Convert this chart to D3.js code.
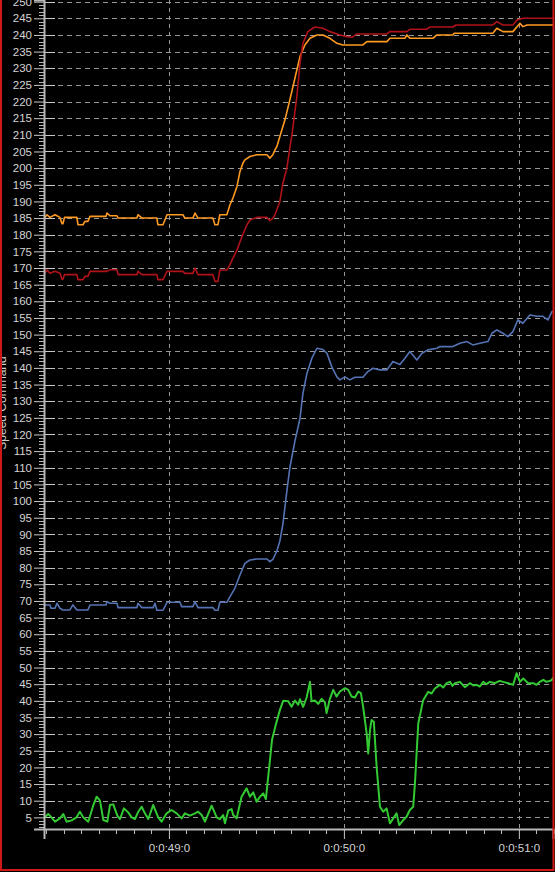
<!DOCTYPE html>
<html><head><meta charset="utf-8">
<script src="https://cdn.jsdelivr.net/npm/d3@7"></script>
<style>html,body{margin:0;padding:0;background:#000;}svg{display:block;}</style>
</head><body>
<script>
// ---- data: [seconds, value] ----
const orange = [[48.291,185.2],[48.303,186],[48.320,185.2],[48.349,186],[48.377,185.2],[48.389,183.3],[48.394,183.3],[48.403,185.2],[48.474,185.2],[48.480,183],[48.509,183],[48.520,184],[48.537,184],[48.549,185.5],[48.640,185.5],[48.646,186.5],[48.663,185.7],[48.703,185.7],[48.709,185],[48.817,185],[48.823,186],[48.846,185],[48.931,185],[48.937,183],[48.966,183],[48.989,186],[49.080,186],[49.091,185],[49.137,185],[49.149,186.5],[49.166,185],[49.251,185],[49.263,183],[49.280,183],[49.291,186],[49.331,186],[49.349,189],[49.366,191],[49.389,194.5],[49.406,199],[49.423,201.5],[49.434,202.5],[49.463,203.5],[49.503,204],[49.560,204],[49.577,203],[49.594,204],[49.606,205.5],[49.617,206.5],[49.634,209.5],[49.663,214.5],[49.691,220.5],[49.720,227],[49.749,233.5],[49.777,237],[49.806,239],[49.846,240],[49.880,240],[49.920,239],[49.960,237.5],[49.994,237],[50.109,237],[50.131,238],[50.246,238],[50.263,239],[50.349,239],[50.360,240],[50.377,239],[50.509,239],[50.531,240],[50.623,240],[50.630,240.5],[50.760,240.5],[50.851,240.5],[50.874,242],[50.909,241],[50.966,241],[51.006,243.5],[51.023,242.5],[51.046,243],[51.206,243]];
const red = [[48.291,168.4],[48.303,169.4],[48.320,168.4],[48.349,169],[48.377,168.4],[48.389,166.6],[48.394,166.6],[48.403,168],[48.474,168],[48.480,166.5],[48.509,166.5],[48.520,167.5],[48.537,167.5],[48.549,169],[48.646,169],[48.663,169.5],[48.703,169.5],[48.709,168],[48.817,168],[48.823,169],[48.846,168],[48.931,168],[48.937,166.5],[48.966,166.5],[48.989,169],[49.080,169],[49.091,168.4],[49.137,168.4],[49.149,170],[49.166,168],[49.251,168],[49.263,166],[49.280,166],[49.291,169.4],[49.331,169.4],[49.349,171],[49.366,173],[49.389,175.4],[49.417,179.4],[49.446,183],[49.463,184.4],[49.503,185.2],[49.560,185.2],[49.577,184.2],[49.594,185],[49.606,186],[49.634,190],[49.651,195.4],[49.674,200],[49.691,206],[49.703,210],[49.731,221.5],[49.749,231.5],[49.766,237.5],[49.794,241],[49.834,242.4],[49.880,242],[49.920,241],[49.977,240],[50.017,239.5],[50.046,239.3],[50.074,240.3],[50.246,240.3],[50.263,241],[50.360,241],[50.377,241.7],[50.474,241.7],[50.491,242.4],[50.623,242.4],[50.640,243],[50.851,243],[50.874,244],[50.909,243],[50.966,243],[50.989,244.5],[51.023,245],[51.206,245]];
const blue = [[48.291,68.8],[48.320,68.8],[48.326,67.8],[48.349,67.8],[48.360,69.3],[48.377,67.8],[48.394,67.3],[48.434,67.3],[48.451,68.8],[48.474,67.3],[48.537,67.3],[48.549,68.8],[48.640,68.8],[48.646,69.8],[48.663,69.3],[48.703,69.3],[48.709,68],[48.817,68],[48.823,69.3],[48.846,68],[48.910,68],[48.920,69.3],[48.931,67.2],[48.966,67.2],[48.989,69.6],[49.063,69.6],[49.073,68.3],[49.137,68.3],[49.149,69.8],[49.166,68],[49.251,68],[49.263,67.2],[49.280,67.2],[49.291,69.6],[49.331,69.6],[49.349,71.3],[49.377,73.8],[49.406,77.8],[49.434,81.3],[49.463,82.3],[49.503,82.6],[49.560,82.6],[49.577,81.8],[49.594,82.5],[49.617,85],[49.634,88],[49.651,93],[49.674,103],[49.691,110],[49.720,118],[49.749,124.8],[49.766,132.4],[49.789,138.4],[49.817,142.9],[49.846,145.9],[49.880,145.5],[49.903,144.4],[49.931,140.3],[49.960,137.3],[49.977,136.4],[50.006,137.3],[50.034,136.4],[50.063,137.2],[50.109,137.2],[50.137,138.9],[50.166,139.9],[50.206,139.4],[50.246,139.4],[50.280,141.9],[50.320,141],[50.349,142.9],[50.377,144.9],[50.417,142.4],[50.446,144.4],[50.480,145.4],[50.531,145.9],[50.549,146.4],[50.623,146.4],[50.663,147.4],[50.703,147.9],[50.737,146.9],[50.777,147.4],[50.823,147.9],[50.846,150.4],[50.874,151.4],[50.909,150.4],[50.937,149.4],[50.966,150.9],[50.994,154.4],[51.023,153.4],[51.063,155.9],[51.103,155.5],[51.137,155.5],[51.166,154.4],[51.189,156.9],[51.206,157]];
const green = [[48.291,5],[48.310,6],[48.329,5],[48.349,3.7],[48.377,4.7],[48.396,6],[48.415,3.7],[48.444,4.1],[48.472,5],[48.491,6.7],[48.510,5],[48.539,3.7],[48.567,8.5],[48.587,11.2],[48.606,10],[48.625,4.2],[48.648,3.7],[48.663,8.7],[48.682,8.9],[48.705,5.5],[48.720,4.5],[48.743,7.7],[48.767,6.5],[48.787,5],[48.806,4.5],[48.825,6.7],[48.844,8.2],[48.863,6.2],[48.882,4.5],[48.910,8.7],[48.939,5],[48.958,3.7],[48.987,6.2],[49.015,7.2],[49.044,6.2],[49.073,4.7],[49.091,6.2],[49.120,5.5],[49.149,6.2],[49.167,6.7],[49.187,5.7],[49.206,3.7],[49.244,8.5],[49.273,5],[49.291,4.5],[49.310,5.7],[49.320,3.2],[49.339,7],[49.358,7.5],[49.367,5.7],[49.387,4.7],[49.415,11.2],[49.444,13.7],[49.463,11.2],[49.482,12.5],[49.501,9.7],[49.520,11.2],[49.539,12.2],[49.554,10.5],[49.565,16],[49.577,22],[49.589,28.2],[49.610,32.7],[49.634,37.2],[49.653,40],[49.682,39.9],[49.701,38.2],[49.720,40.1],[49.739,38.8],[49.749,40.5],[49.767,38.2],[49.787,41],[49.806,45.7],[49.815,39.9],[49.834,40.1],[49.853,39.1],[49.873,40.6],[49.891,39.6],[49.901,36.3],[49.920,40.6],[49.939,43.3],[49.958,41.3],[49.977,42.8],[50.006,43.8],[50.025,43.3],[50.044,41.3],[50.063,41],[50.082,42.8],[50.097,42.3],[50.110,38.2],[50.130,30.2],[50.139,24.2],[50.149,31.2],[50.158,34.2],[50.171,33.7],[50.187,20.2],[50.206,8.2],[50.225,6.7],[50.244,7.7],[50.263,3.2],[50.282,4.7],[50.301,6.2],[50.316,2.7],[50.339,4.2],[50.358,5.2],[50.377,7.2],[50.396,8.2],[50.406,15.2],[50.425,33.2],[50.453,40.2],[50.482,42.7],[50.501,42.2],[50.520,43.7],[50.549,44.8],[50.567,44],[50.587,45.3],[50.606,45.7],[50.620,44.5],[50.634,45.3],[50.663,45.7],[50.691,44.1],[50.720,45.3],[50.740,44.6],[50.758,44.8],[50.777,44.3],[50.796,45.7],[50.815,45],[50.834,45.7],[50.863,45.3],[50.890,46],[50.910,45.7],[50.939,45.3],[50.967,44.8],[50.987,48.3],[51.006,45.7],[51.025,46.7],[51.053,45.3],[51.082,45.3],[51.101,44.8],[51.120,45.7],[51.140,46.3],[51.158,45.7],[51.187,46.2],[51.196,47]];

const xTickLabels = ["0:0:49:0","0:0:50:0","0:0:51:0"];
const xMajor = [49, 50, 51];
const yTitle = "Speed Command";

const seriesList = [
  {data: orange, color: "#ff9a22", w: 1.6},
  {data: red, color: "#b0121a", w: 1.6},
  {data: blue, color: "#5573b4", w: 1.6},
  {data: green, color: "#33c933", w: 2}
];

const W = 555, H = 872;
const L = 44, R = 553, T = 0, B = 829;

const svg = d3.select("body").append("svg").attr("width", W).attr("height", H)
  .style("background", "#000");

const x = d3.scaleLinear().domain([48.286, 51.195]).range([L, R]);
const y = d3.scaleLinear().domain([1.5, 250.5]).range([B, T]);

const font = "'Liberation Sans', Arial, sans-serif";

// grid
const yMajorVals = d3.range(5, 251, 5);
svg.append("g").selectAll("line").data(yMajorVals).join("line")
  .attr("x1", L + 14).attr("x2", R).attr("y1", d => Math.round(y(d)) + 0.5).attr("y2", d => Math.round(y(d)) + 0.5)
  .attr("stroke", "#969696").attr("stroke-width", 1).attr("stroke-dasharray", "5,4");
// solid tick extension right of the axis
svg.append("g").selectAll("line").data(yMajorVals).join("line")
  .attr("x1", L).attr("x2", L + 11).attr("y1", d => Math.round(y(d)) + 0.5).attr("y2", d => Math.round(y(d)) + 0.5)
  .attr("stroke", "#c8c8c8").attr("stroke-width", 1);
svg.append("g").selectAll("line").data(xMajor).join("line")
  .attr("x1", d => Math.round(x(d)) + 0.5).attr("x2", d => Math.round(x(d)) + 0.5).attr("y1", T).attr("y2", B)
  .attr("stroke", "#969696").attr("stroke-width", 1).attr("stroke-dasharray", "4,4");

// lines
svg.append("clipPath").attr("id", "clip").append("rect")
  .attr("x", L + 1).attr("y", T).attr("width", R - L - 1).attr("height", B - T);
const line = d3.line().x(d => x(d[0])).y(d => y(d[1]));
const lg = svg.append("g").attr("clip-path", "url(#clip)");
seriesList.forEach(s => {
  lg.append("path").datum(s.data).attr("d", line).attr("fill", "none")
    .attr("stroke", s.color).attr("stroke-width", s.w).attr("stroke-linejoin", "round");
});

// y axis
const yAxis = d3.axisLeft(y).tickValues(yMajorVals).tickSize(10).tickPadding(2);
const yg = svg.append("g").attr("transform", `translate(${L},0)`).call(yAxis);
yg.select(".domain").attr("stroke", "#b8b8b8").attr("stroke-width", 2);
yg.selectAll(".tick line").attr("stroke", "#c8c8c8");
yg.selectAll(".tick text").attr("fill", "#d4d4d4").style("font-family", font).style("font-size", "11.5px");
const yMinor = d3.range(2, 251, 1).filter(v => v % 5 !== 0);
svg.append("g").selectAll("line").data(yMinor).join("line")
  .attr("x1", L - 5).attr("x2", L).attr("y1", d => Math.round(y(d)) + 0.5).attr("y2", d => Math.round(y(d)) + 0.5)
  .attr("stroke", "#b8b8b8").attr("stroke-width", 1);

// x axis
const xAxis = d3.axisBottom(x).tickValues(xMajor).tickSize(10).tickPadding(5)
  .tickFormat((d, i) => xTickLabels[i]);
const xg = svg.append("g").attr("transform", `translate(0,${B})`).call(xAxis);
xg.select(".domain").attr("stroke", "#b8b8b8").attr("stroke-width", 2);
xg.selectAll(".tick line").attr("stroke", "#c8c8c8");
xg.selectAll(".tick text").attr("fill", "#d4d4d4").style("font-family", font).style("font-size", "11.5px");
const xMinor = d3.range(48.3, 51.2, 0.1).filter(v => Math.abs(v - Math.round(v)) > 0.01);
svg.append("g").selectAll("line").data(xMinor).join("line")
  .attr("x1", d => Math.round(x(d)) + 0.5).attr("x2", d => Math.round(x(d)) + 0.5).attr("y1", B).attr("y2", B + 5)
  .attr("stroke", "#b8b8b8").attr("stroke-width", 1);

// y title
svg.append("text").attr("transform", "translate(6,403) rotate(-90)")
  .attr("text-anchor", "middle").attr("fill", "#cfcfcf")
  .style("font-family", font).style("font-size", "12px").text(yTitle);

// border
svg.append("rect").attr("x", 1).attr("y", -5).attr("width", 552.5).attr("height", 875)
  .attr("fill", "none").attr("stroke", "#d01818").attr("stroke-width", 2);
</script>
</body></html>
